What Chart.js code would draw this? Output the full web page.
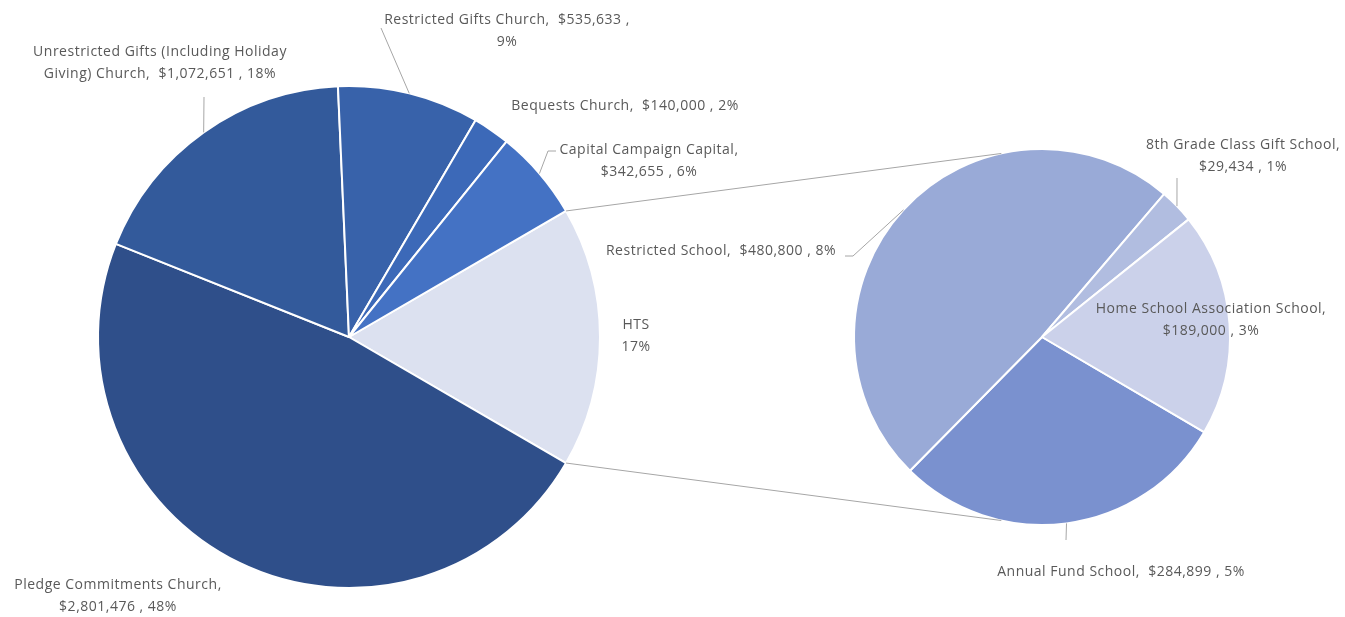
<!DOCTYPE html>
<html>
<head>
<meta charset="utf-8">
<script src="https://cdn.jsdelivr.net/npm/chart.js@4.4.1/dist/chart.umd.min.js"></script>
<style>
  body { margin: 0; background: #ffffff; }
  #wrap { position: relative; width: 1345px; height: 617px; }
  #wrap canvas { position: absolute; left: 0; top: 0; }
</style>
</head>
<body>
<div id="wrap">
  <canvas id="mainPie" width="1345" height="617"></canvas>
  <canvas id="schoolPie" width="1345" height="617"></canvas>
</div>
<script>
(function () {
  "use strict";

  // secondary pie (school) data
  const schoolLabels = ['Annual Fund School', 'Restricted School', '8th Grade Class Gift School', 'Home School Association School'];
  const schoolValues = [284899, 480800, 29434, 189000];

  // main pie data, HTS is the sum of the school slices
  const mainLabels = ['HTS', 'Pledge Commitments Church', 'Unrestricted Gifts (Including Holiday Giving) Church', 'Restricted Gifts Church', 'Bequests Church', 'Capital Campaign Capital'];
  const mainValues = [schoolValues.reduce((a, b) => a + b, 0), 2801476, 1072651, 535633, 140000, 342655];

  const mainColors   = ['#dce1f0', '#2f4f8a', '#335a9b', '#3862aa', '#3c69b8', '#4472c4'];
  const schoolColors = ['#7a91cf', '#99aad7', '#b1bde0', '#cbd1ea'];

  const total = mainValues.reduce((a, b) => a + b, 0);
  const textColor = '#595959';
  const lineColor = '#a6a6a6';
  const font = '14px "Open Sans", "Liberation Sans", sans-serif';

  // label placement: centre of text block, where lines break, leader elbow points
  const mainLayout = [
    { x: 636, y: 325, br: 'pct', short: true },
    { x: 118, y: 585, br: 'name' },
    { x: 160, y: 52,  br: 'Giving)', leader: [[204, 97]] },
    { x: 507, y: 20,  br: 'pct', leader: [[381, 28]] },
    { x: 625, y: 106 },
    { x: 649, y: 150, br: 'name', leader: [[548, 151], [556, 151]] }
  ];
  const schoolLayout = [
    { x: 1121, y: 572, leader: [[1066, 540]] },
    { x: 721,  y: 251, leader: [[853, 256], [845, 256]] },
    { x: 1243, y: 145, br: 'name', leader: [[1177, 178]] },
    { x: 1211, y: 309, br: 'name' }
  ];

  function money(v) {
    return '$' + v.toLocaleString('en-US');
  }
  function pct(v) {
    return Math.round(v / total * 100) + '%';
  }

  function labelLines(name, value, lay) {
    if (lay.short) return [name, pct(value)];
    const first = name + ',';
    const rest = money(value) + ' , ' + pct(value);
    if (lay.br === 'name') return [first, rest];
    if (lay.br === 'pct') return [first + '  ' + money(value) + ' ,', pct(value)];
    const full = first + '  ' + rest;
    if (lay.br) {
      const i = full.indexOf(lay.br);
      return [full.slice(0, i).trim(), full.slice(i)];
    }
    return [full];
  }

  function drawLabels(chart, names, values, layout) {
    const ctx = chart.ctx;
    const arcs = chart.getDatasetMeta(0).data;
    ctx.save();
    ctx.font = font;
    ctx.letterSpacing = '0.5px';
    ctx.fillStyle = textColor;
    ctx.textAlign = 'center';
    ctx.textBaseline = 'middle';
    ctx.strokeStyle = lineColor;
    ctx.lineWidth = 1;
    names.forEach((name, i) => {
      const lay = layout[i];
      const lines = labelLines(name, values[i], lay);
      lines.forEach((t, k) => ctx.fillText(t, lay.x, lay.y + k * 22));
      if (lay.leader) {
        const a = arcs[i].getProps(['x', 'y', 'startAngle', 'endAngle', 'outerRadius'], true);
        const mid = (a.startAngle + a.endAngle) / 2;
        ctx.beginPath();
        ctx.moveTo(a.x + Math.cos(mid) * a.outerRadius, a.y + Math.sin(mid) * a.outerRadius);
        lay.leader.forEach(p => ctx.lineTo(p[0], p[1]));
        ctx.stroke();
      }
    });
    ctx.restore();
  }

  const mainLabelPlugin = {
    id: 'mainLabels',
    afterDraw(chart) { drawLabels(chart, mainLabels, mainValues, mainLayout); }
  };

  const mainChart = new Chart(document.getElementById('mainPie'), {
    type: 'pie',
    data: {
      labels: mainLabels,
      datasets: [{
        data: mainValues,
        backgroundColor: mainColors,
        borderColor: '#ffffff',
        borderWidth: 2
      }]
    },
    options: {
      responsive: false,
      animation: false,
      radius: 251,
      rotation: 90 - mainValues[0] / total * 180,
      layout: { padding: { left: 98, top: 86, right: 745, bottom: 29 } },
      plugins: { legend: { display: false }, tooltip: { enabled: false } }
    },
    plugins: [mainLabelPlugin]
  });

  // connector lines from HTS slice to the secondary pie + school labels
  const schoolPlugin = {
    id: 'schoolLabels',
    afterDraw(chart) {
      const ctx = chart.ctx;
      const hts = mainChart.getDatasetMeta(0).data[0].getProps(['x', 'y', 'startAngle', 'endAngle', 'outerRadius'], true);
      const sp = chart.getDatasetMeta(0).data[0].getProps(['x', 'y', 'outerRadius'], true);
      const far = 102.5 * Math.PI / 180;
      ctx.save();
      ctx.strokeStyle = lineColor;
      ctx.lineWidth = 1;
      ctx.beginPath();
      ctx.moveTo(hts.x + Math.cos(hts.startAngle) * hts.outerRadius, hts.y + Math.sin(hts.startAngle) * hts.outerRadius);
      ctx.lineTo(sp.x + Math.cos(-far) * sp.outerRadius, sp.y + Math.sin(-far) * sp.outerRadius);
      ctx.moveTo(hts.x + Math.cos(hts.endAngle) * hts.outerRadius, hts.y + Math.sin(hts.endAngle) * hts.outerRadius);
      ctx.lineTo(sp.x + Math.cos(far) * sp.outerRadius, sp.y + Math.sin(far) * sp.outerRadius);
      ctx.stroke();
      ctx.restore();
      drawLabels(chart, schoolLabels, schoolValues, schoolLayout);
    }
  };

  new Chart(document.getElementById('schoolPie'), {
    type: 'pie',
    data: {
      labels: schoolLabels,
      datasets: [{
        data: schoolValues,
        backgroundColor: schoolColors,
        borderColor: '#ffffff',
        borderWidth: 2
      }]
    },
    options: {
      responsive: false,
      animation: false,
      radius: 188,
      rotation: 90 + 30.4,
      layout: { padding: { left: 854, top: 149, right: 115, bottom: 92 } },
      plugins: { legend: { display: false }, tooltip: { enabled: false } }
    },
    plugins: [schoolPlugin]
  });
})();
</script>
</body>
</html>
